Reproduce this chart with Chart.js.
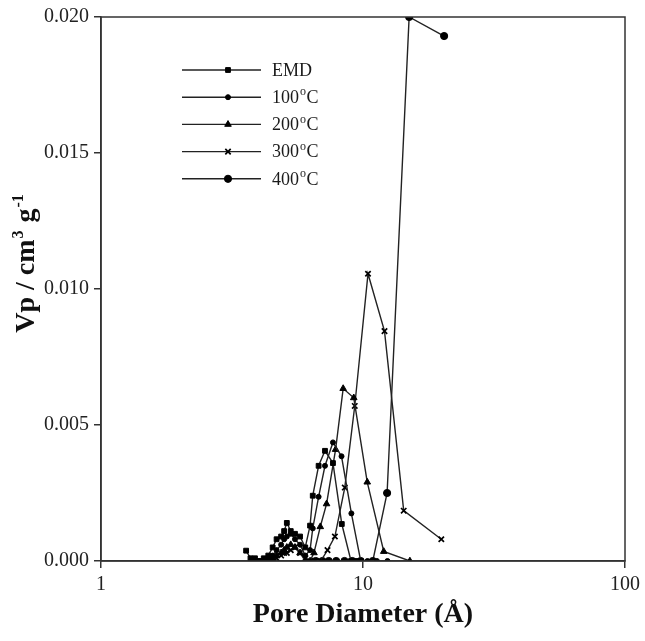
<!DOCTYPE html>
<html>
<head>
<meta charset="utf-8">
<script src="https://cdn.jsdelivr.net/npm/chart.js@4/dist/chart.umd.min.js"></script>
<style>
  html, body { margin: 0; padding: 0; background: #fff; }
  #wrap { width: 645px; height: 641px; }
</style>
</head>
<body>
<div id="wrap"><canvas id="c" width="645" height="641"></canvas></div>
<script>
// ---- data (pore diameter in Å, Vp in cm3/g) ----
const seriesNames = ['EMD', '100', '200', '300', '400'];
const xTickValues = [1, 10, 100];
const yTickStep = 0.005;

const emdX = [3.58, 3.72, 3.87, 4.02, 4.18, 4.35, 4.52, 4.68, 4.87, 5.00, 5.12, 5.30, 5.50, 5.75, 6.02, 6.28, 6.43, 6.77, 7.16, 7.68, 8.30, 9.00, 9.40, 9.80];
const emdY = [0.00038, 0.0001, 0.0001, 0.0, 0.0001, 0.0002, 0.0005, 0.0008, 0.0009, 0.0011, 0.0014, 0.0011, 0.0010, 0.0009, 0.0005, 0.0013, 0.0024, 0.0035, 0.00405, 0.0036, 0.00136, 0.0, 0.0, 0.0];

const t100X = [4.02, 4.18, 4.35, 4.52, 4.68, 4.87, 5.00, 5.12, 5.30, 5.50, 5.75, 6.02, 6.28, 6.43, 6.77, 7.16, 7.68, 8.28, 9.03, 9.80, 10.4, 11.3, 12.4];
const t100Y = [0.0, 0.0, 0.0001, 0.0002, 0.0004, 0.0006, 0.0008, 0.0009, 0.0010, 0.0008, 0.0006, 0.0002, 0.0004, 0.0012, 0.00236, 0.0035, 0.00436, 0.00385, 0.00175, 0.0, 0.0, 0.0, 0.0];

const t200X = [4.18, 4.35, 4.52, 4.68, 4.87, 5.00, 5.12, 5.30, 5.50, 5.75, 6.02, 6.28, 6.50, 6.87, 7.26, 7.86, 8.40, 9.22, 10.38, 12.0, 15.1];
const t200Y = [0.0, 0.0, 0.0001, 0.0002, 0.0003, 0.0004, 0.0005, 0.0006, 0.0005, 0.0003, 0.0, 0.0, 0.0003, 0.00126, 0.0021, 0.0041, 0.00634, 0.0060, 0.0029, 0.00035, 0.0];

const t300X = [4.18, 4.35, 4.52, 4.68, 4.87, 5.00, 5.12, 5.30, 5.50, 5.75, 6.02, 6.28, 6.55, 6.90, 7.32, 7.81, 8.52, 9.30, 10.45, 12.08, 14.3, 19.9];
const t300Y = [0.0, 0.0, 0.0, 0.0001, 0.0002, 0.0003, 0.0003, 0.0004, 0.0005, 0.0003, 0.0001, 0.0, 0.0, 0.0, 0.0004, 0.0009, 0.0027, 0.0057, 0.01056, 0.00845, 0.00185, 0.0008];

const t400X = [6.6, 7.0, 7.4, 7.9, 8.5, 9.1, 9.8, 10.9, 12.36, 15.0, 20.4];
const t400Y = [0.0, 0.0, 0.0, 0.0, 0.0, 0.0, 0.0, 0.0, 0.0025, 0.020, 0.0193];

// ---- build ----
const pts = (xs, ys) => xs.map((x, i) => ({ x: x, y: ys[i] }));
const styles = [
  { pointStyle: 'rect', pointRadius: 3.4 },
  { pointStyle: 'circle', pointRadius: 2.5 },
  { pointStyle: 'triangle', pointRadius: 3.8 },
  { pointStyle: 'crossRot', pointRadius: 3.8 },
  { pointStyle: 'circle', pointRadius: 3.6 }
];
const allData = [pts(emdX, emdY), pts(t100X, t100Y), pts(t200X, t200Y), pts(t300X, t300Y), pts(t400X, t400Y)];

const datasets = allData.map((d, i) => ({
  label: seriesNames[i],
  data: d,
  showLine: true,
  borderColor: '#222',
  borderWidth: 1.4,
  backgroundColor: '#000',
  pointBackgroundColor: '#000',
  pointBorderColor: '#000',
  pointBorderWidth: i === 3 ? 1.7 : 1,
  pointStyle: styles[i].pointStyle,
  pointRadius: styles[i].pointRadius,
  tension: 0
}));

const SERIF = '"Liberation Serif", "DejaVu Serif", serif';

const framePlugin = {
  id: 'frame',
  afterDraw(chart) {
    const ctx = chart.ctx;
    const a = chart.chartArea;
    ctx.save();
    ctx.strokeStyle = '#333';
    ctx.lineWidth = 1.5;
    ctx.strokeRect(a.left, a.top, a.right - a.left, a.bottom - a.top);

    // legend
    const lx0 = 182, lx1 = 261, mx = 228, tx = 272, y0 = 70, dy = 27.2;
    chart.data.datasets.forEach((ds, i) => {
      const y = y0 + i * dy;
      ctx.strokeStyle = '#222';
      ctx.lineWidth = 1.4;
      ctx.beginPath();
      ctx.moveTo(lx0, y); ctx.lineTo(lx1, y); ctx.stroke();
      ctx.fillStyle = '#000';
      ctx.strokeStyle = '#000';
      ctx.lineWidth = ds.pointBorderWidth;
      Chart.helpers.drawPoint(ctx, { pointStyle: ds.pointStyle, radius: ds.pointRadius, rotation: 0, borderWidth: ds.pointBorderWidth }, mx, y);
      ctx.fillStyle = '#1a1a1a';
      ctx.textBaseline = 'middle';
      ctx.textAlign = 'left';
      ctx.font = '18px ' + SERIF;
      ctx.fillText(ds.label, tx, y + 1);
      if (i > 0) {
        const w = ctx.measureText(ds.label).width;
        ctx.font = '12px ' + SERIF;
        ctx.fillText('o', tx + w + 1, y - 5);
        const w2 = ctx.measureText('o').width;
        ctx.font = '18px ' + SERIF;
        ctx.fillText('C', tx + w + w2 + 1.5, y + 1);
      }
    });

    // x title
    ctx.fillStyle = '#111';
    ctx.font = 'bold 28px ' + SERIF;
    ctx.textAlign = 'center';
    ctx.textBaseline = 'middle';
    ctx.fillText('Pore Diameter (\u00C5)', (a.left + a.right) / 2, 615);

    // y title (rotated) with superscripts
    ctx.save();
    ctx.translate(34, 263);
    ctx.rotate(-Math.PI / 2);
    ctx.textBaseline = 'alphabetic';
    const parts = [
      { t: 'Vp / cm', s: false },
      { t: '3', s: true },
      { t: ' g', s: false },
      { t: '-1', s: true }
    ];
    let total = 0;
    parts.forEach(p => {
      ctx.font = (p.s ? 'bold 16px ' : 'bold 28px ') + SERIF;
      p.w = ctx.measureText(p.t).width + (p.s ? 2 : 0);
      total += p.w;
    });
    let x = -total / 2;
    ctx.textAlign = 'left';
    parts.forEach(p => {
      ctx.font = (p.s ? 'bold 16px ' : 'bold 28px ') + SERIF;
      ctx.fillText(p.t, x + (p.s ? 1 : 0), p.s ? -11 : 0);
      x += p.w;
    });
    ctx.restore();
    ctx.restore();
  }
};

new Chart(document.getElementById('c'), {
  type: 'scatter',
  data: { datasets: datasets },
  options: {
    responsive: false,
    animation: false,
    devicePixelRatio: 1,
    layout: { padding: { left: 0, top: 16, right: 16, bottom: 0 } },
    plugins: { legend: { display: false }, tooltip: { enabled: false } },
    scales: {
      x: {
        type: 'logarithmic',
        min: 1, max: 100,
        afterBuildTicks(scale) { scale.ticks = xTickValues.map(v => ({ value: v })); },
        afterFit(scale) { scale.height = 80; },
        ticks: {
          color: '#222',
          font: { family: SERIF, size: 20 },
          padding: 5,
          maxRotation: 0,
          autoSkip: false,
          callback: v => String(v)
        },
        grid: { display: true, drawOnChartArea: false, drawTicks: true, tickLength: 7, color: '#333', lineWidth: 1.5 },
        border: { display: true, color: '#333', width: 1.5 }
      },
      y: {
        type: 'linear',
        min: 0, max: 0.02,
        afterFit(scale) { scale.width = 101; },
        ticks: {
          stepSize: yTickStep,
          color: '#222',
          font: { family: SERIF, size: 20 },
          padding: 5,
          callback: v => Number(v).toFixed(3)
        },
        grid: { display: true, drawOnChartArea: false, drawTicks: true, tickLength: 7, color: '#333', lineWidth: 1.5 },
        border: { display: true, color: '#333', width: 1.5 }
      }
    }
  },
  plugins: [framePlugin]
});
</script>
</body>
</html>
